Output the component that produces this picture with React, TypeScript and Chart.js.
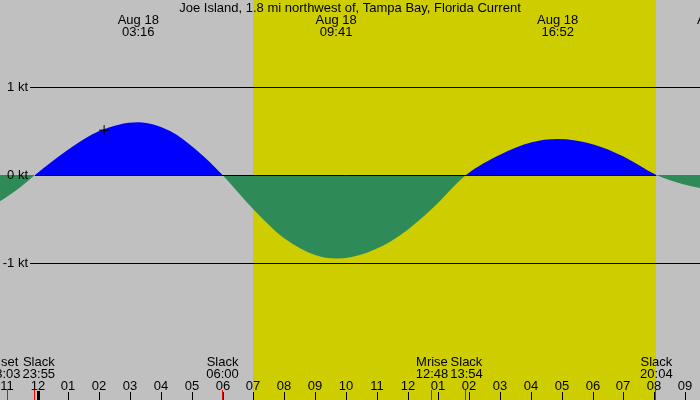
import React, { useEffect, useRef } from "react";
import { Chart, registerables } from "chart.js";

Chart.register(...registerables);

// Current curve (hours from midnight Aug 18, knots)
const hours = [-1.22, -0.6, -0.08, 1, 2, 3.27, 4.3, 5.2, 6, 7, 8, 9, 9.68, 10.7, 11.7, 12.8, 13.9, 15, 16, 16.87, 18, 19, 20.07, 21, 21.5];
const knots = [-0.3, -0.15, 0, 0.29, 0.5, 0.6, 0.5, 0.27, 0, -0.39, -0.72, -0.91, -0.95, -0.88, -0.7, -0.38, 0, 0.23, 0.37, 0.41, 0.35, 0.21, 0, -0.11, -0.15];

// "now" marker
const markerHour = [2.16];
const markerKnots = [0.51];

// Axis ranges
const xRange = [-1.216, 21.482];
const yRange = [-2.557, 1.989];

// Daylight
const dayStart = 7.0;
const dayEnd = 20.05;

// Reference lines
const refLines = [1, -1];
const yLabelValues = [1, 0, -1];
const yLabels = ["1 kt", "0 kt", "-1 kt"];
const zeroLineSpan = [-0.083, 20.067];

// Hour ticks
const tickHours = [-1, 0, 1, 2, 3, 4, 5, 6, 7, 8, 9, 10, 11, 12, 13, 14, 15, 16, 17, 18, 19, 20, 21];
const tickLabels = ["11", "12", "01", "02", "03", "04", "05", "06", "07", "08", "09", "10", "11", "12", "01", "02", "03", "04", "05", "06", "07", "08", "09"];

// Bottom events
const eventHours = [-0.95, -0.083, 6.0, 12.8, 13.9, 20.067];
const eventNames = ["Mset", "Slack", "Slack", "Mrise", "Slack", "Slack"];
const eventTimes = ["23:03", "23:55", "06:00", "12:48", "13:54", "20:04"];

// Top (max current) events
const peakHours = [3.267, 9.683, 16.867, 22.05];
const peakDates = ["Aug 18", "Aug 18", "Aug 18", "Aug 18"];
const peakTimes = ["03:16", "09:41", "16:52", "22:03"];

const title = "Joe Island, 1.8 mi northwest of, Tampa Bay, Florida Current";
const FONT = '13px "Liberation Sans", Arial, sans-serif';

const decor = {
  id: "decor",
  beforeDraw(chart: any) {
    const { ctx, scales } = chart;
    const x = scales.x;
    ctx.save();
    ctx.fillStyle = "#c0c0c0";
    ctx.fillRect(0, 0, chart.width, chart.height);
    const a = Math.round(x.getPixelForValue(dayStart));
    const b = Math.round(x.getPixelForValue(dayEnd));
    ctx.fillStyle = "#cdcd00";
    ctx.fillRect(a, 0, b - a, chart.height);
    ctx.restore();
  },
  afterDatasetsDraw(chart: any) {
    const { ctx, scales } = chart;
    const x = scales.x;
    const y = scales.y;
    ctx.save();
    ctx.strokeStyle = "#000";
    ctx.lineWidth = 1;
    refLines.forEach((v) => {
      const py = Math.round(y.getPixelForValue(v)) + 0.5;
      ctx.beginPath();
      ctx.moveTo(30, py);
      ctx.lineTo(chart.width, py);
      ctx.stroke();
    });
    const pz = Math.round(y.getPixelForValue(0)) + 0.5;
    ctx.beginPath();
    ctx.moveTo(x.getPixelForValue(zeroLineSpan[0]), pz);
    ctx.lineTo(x.getPixelForValue(zeroLineSpan[1]), pz);
    ctx.stroke();

    ctx.font = FONT;
    ctx.fillStyle = "#000";
    ctx.textAlign = "right";
    ctx.textBaseline = "middle";
    yLabelValues.forEach((v, i) => {
      ctx.fillText(yLabels[i], 28, y.getPixelForValue(v));
    });
    ctx.textAlign = "center";
    ctx.fillText(title, chart.width / 2, 8);
    peakHours.forEach((h, i) => {
      const px = x.getPixelForValue(h);
      ctx.fillText(peakDates[i], px, 20);
      ctx.fillText(peakTimes[i], px, 32);
    });
    // bottom event labels, pushed apart when they collide
    const centers = eventHours.map((h) => x.getPixelForValue(h));
    const widths = eventNames.map((n, i) =>
      Math.max(ctx.measureText(n).width, ctx.measureText(eventTimes[i]).width)
    );
    for (let i = 1; i < centers.length; i++) {
      const need = (widths[i - 1] + widths[i]) / 2 + 2;
      const d = centers[i] - centers[i - 1];
      if (d < need) {
        const s = (need - d) / 2;
        centers[i - 1] -= s;
        centers[i] += s;
      }
    }
    centers.forEach((px, i) => {
      ctx.fillText(eventNames[i], px, 362);
      ctx.fillText(eventTimes[i], px, 374);
    });
    tickHours.forEach((h, i) => {
      const px = Math.round(x.getPixelForValue(h));
      ctx.fillText(tickLabels[i], px, 386);
      if (h === 0) {
        ctx.fillRect(px - 1, 391, 3, 9);
      } else {
        ctx.fillRect(px, 392, 1, 8);
      }
    });
    ctx.fillStyle = "#ff0000";
    eventHours.forEach((h) => {
      const px = Math.round(x.getPixelForValue(h));
      ctx.fillRect(px - 1, 390, 1, 10);
    });
    ctx.restore();
  },
};

export default function App() {
  const ref = useRef<HTMLCanvasElement>(null);
  useEffect(() => {
    document.body.style.margin = "0";
    const chart = new Chart(ref.current!, {
      type: "line",
      data: {
        datasets: [
          {
            data: hours.map((h, i) => ({ x: h, y: knots[i] })),
            borderColor: "transparent",
            borderWidth: 1,
            pointRadius: 0,
            cubicInterpolationMode: "monotone",
            fill: { target: { value: 0 }, above: "#0000ff", below: "#2e8b57" },
            order: 2,
          },
          {
            data: markerHour.map((h, i) => ({ x: h, y: markerKnots[i] })),
            showLine: false,
            pointStyle: "cross",
            pointRadius: 5,
            borderColor: "#000",
            borderWidth: 1,
            fill: false,
            order: 1,
          },
        ],
      },
      options: {
        animation: false,
        responsive: false,
        layout: { padding: 0, autoPadding: false },
        plugins: { legend: { display: false }, tooltip: { enabled: false } },
        scales: {
          x: { type: "linear", min: xRange[0], max: xRange[1], display: false },
          y: { type: "linear", min: yRange[0], max: yRange[1], display: false },
        },
      },
      plugins: [decor],
    });
    return () => chart.destroy();
  }, []);
  return (
    <div style={{ position: "absolute", left: 0, top: 0, width: 700, height: 400 }}>
      <canvas ref={ref} width={700} height={400} style={{ display: "block", width: 700, height: 400 }} />
    </div>
  );
}
